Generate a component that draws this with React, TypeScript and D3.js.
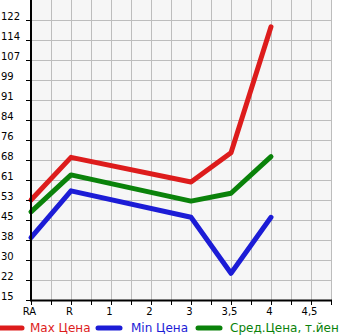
import React from "react";
import * as d3 from "d3";

const categories = ["RA", "R", "1", "2", "3", "3,5", "4", "4,5"];
const yTickLabels = ["15", "22", "30", "38", "45", "53", "61", "68", "76", "84", "91", "99", "107", "114", "122"];

const pointCats = ["RA", "R", "3", "3,5", "4"];
const maxPrice = [53.2, 69.5, 60.1, 71.3, 119.4];
const minPrice = [38.8, 56.7, 46.6, 25.2, 46.6];
const avgPrice = [48.7, 62.8, 52.8, 55.8, 69.8];

const seriesNames = ["Max Цена", "Min Цена", "Сред.Цена, т.йен"];
const seriesColors = ["#dd1c1c", "#1c1cd6", "#0a820a"];

const W = 345;
const H = 335;
const left = 31;
const right = 331;
const top = 0;
const bottom = 300;

export default function App() {
  const x = d3.scaleLinear().domain([0, 7.5]).range([left, right]);
  const y = d3.scaleLinear().domain([15, 122]).range([bottom, 20]);
  const yTickVals = yTickLabels.map((_, i) => 15 + (i * 107) / 14);
  const catIndex = (c: string) => categories.indexOf(c);

  const line = d3
    .line<[number, number]>()
    .x((d) => d[0])
    .y((d) => d[1]);

  const series = [maxPrice, minPrice, avgPrice];
  const vGrid = d3.range(0, 7.5 + 0.001, 0.5);
  const hGrid = d3.range(0, 15).map((i) => y(15 + (i * 107) / 14));
  hGrid.push(y.invert ? 0 : 0);

  return (
    <svg
      width={W}
      height={H}
      style={{ position: "absolute", left: 0, top: 0, fontFamily: "DejaVu Sans, sans-serif" }}
    >
      <rect x={left} y={top} width={right - left} height={bottom - top} fill="#f6f6f6" />
      {vGrid.map((v, i) => (
        <line key={"vg" + i} x1={x(v) + 0.5} x2={x(v) + 0.5} y1={top} y2={bottom} stroke="#bdbdbd" strokeWidth={1} />
      ))}
      {d3.range(0, 15).map((i) => (
        <line key={"hg" + i} x1={left} x2={right} y1={bottom - 20 * i + 0.5} y2={bottom - 20 * i + 0.5} stroke="#bdbdbd" strokeWidth={1} />
      ))}
      {series.map((vals, si) => (
        <path
          key={"s" + si}
          d={line(vals.map((v, i) => [x(catIndex(pointCats[i])), y(v)]) as [number, number][]) || ""}
          fill="none"
          stroke={seriesColors[si]}
          strokeWidth={5}
          strokeLinejoin="round"
          strokeLinecap="round"
        />
      ))}
      {/* axes */}
      <line x1={31} x2={31} y1={top} y2={bottom + 1} stroke="#000" strokeWidth={2} />
      <line x1={30} x2={right + 1} y1={bottom + 0.5} y2={bottom + 0.5} stroke="#000" strokeWidth={2} />
      {yTickVals.map((v, i) => (
        <g key={"yt" + i}>
          <line x1={26} x2={31} y1={Math.round(y(v)) + 0.5} y2={Math.round(y(v)) + 0.5} stroke="#000" strokeWidth={1} />
          <text x={1} y={Math.round(y(v))} fontSize={10} fill="#000">
            {yTickLabels[i]}
          </text>
        </g>
      ))}
      {vGrid.map((v, i) => (
        <line key={"xt" + i} x1={x(v) + 0.5} x2={x(v) + 0.5} y1={bottom} y2={bottom + 5} stroke="#000" strokeWidth={1} />
      ))}
      {categories.map((c, i) => (
        <text key={"xl" + i} x={x(i) - 1.5} y={315} fontSize={10} textAnchor="middle" fill="#000">
          {c}
        </text>
      ))}
      {/* legend */}
      {seriesNames.map((n, i) => {
        const lx = [0, 98, 198][i];
        const tx = [30, 131, 230][i];
        return (
          <g key={"lg" + i}>
            <line x1={lx} x2={lx + 22} y1={328} y2={328} stroke={seriesColors[i]} strokeWidth={5} strokeLinecap="round" />
            <text x={tx} y={332} fontSize={12} fill={seriesColors[i]}>
              {n}
            </text>
          </g>
        );
      })}
    </svg>
  );
}
